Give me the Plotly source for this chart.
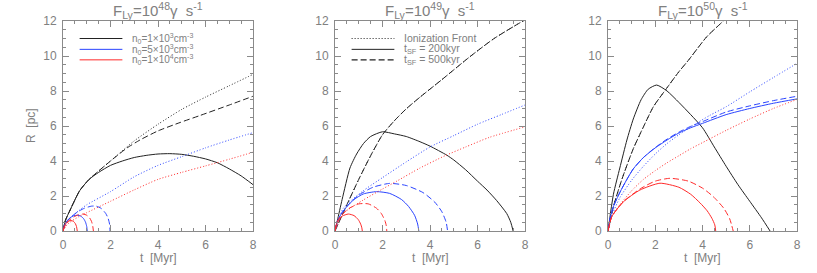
import plotly.graph_objects as go

# ---------------- data (t in Myr, R in pc) ----------------
TITLES = ["F<sub>Ly</sub>=10<sup>48</sup>γ  s<sup>-1</sup>",
          "F<sub>Ly</sub>=10<sup>49</sup>γ  s<sup>-1</sup>",
          "F<sub>Ly</sub>=10<sup>50</sup>γ  s<sup>-1</sup>"]
X_TICKS = [0, 2, 4, 6, 8]
Y_TICKS = [0, 2, 4, 6, 8, 10, 12]
LEGEND1 = ["n<sub>0</sub>=1×10<sup>3</sup>cm<sup>-3</sup>",
           "n<sub>0</sub>=5×10<sup>3</sup>cm<sup>-3</sup>",
           "n<sub>0</sub>=1×10<sup>4</sup>cm<sup>-3</sup>"]
LEGEND2 = ["Ionization Front", "t<sub>SF</sub> = 200kyr", "t<sub>SF</sub> = 500kyr"]

# Panel 1 : F = 1e48
P1_K_IF_T = [0, 0.1, 0.3, 0.7, 1.1, 2.0, 3.0, 4.0, 5.0, 6.0, 7.0, 8.0]
P1_K_IF_R = [0, 0.6, 1.2, 2.3, 2.95, 4.0, 5.15, 6.1, 6.95, 7.65, 8.3, 8.95]
P1_K_200_T = [0, 0.1, 0.3, 0.7, 1.1, 1.5, 2.0, 2.5, 3.0, 3.5, 4.0, 4.5, 5.0, 5.5, 6.0, 6.5, 7.0, 7.5, 8.0]
P1_K_200_R = [0, 0.6, 1.2, 2.3, 2.95, 3.35, 3.75, 4.0, 4.2, 4.32, 4.4, 4.42, 4.38, 4.27, 4.12, 3.9, 3.55, 3.15, 2.65]
P1_K_500_T = [0, 0.1, 0.3, 0.7, 1.1, 2.0, 2.7, 3.24, 4.0, 4.93, 5.77, 7.0, 8.0]
P1_K_500_R = [0, 0.6, 1.2, 2.3, 2.95, 4.0, 4.75, 5.2, 5.72, 6.2, 6.6, 7.2, 7.7]
P1_B_IF_T = [0, 0.2, 0.7, 1.0, 2.0, 3.0, 4.0, 5.0, 6.0, 7.0, 8.0]
P1_B_IF_R = [0, 0.6, 1.2, 1.5, 2.25, 3.1, 3.75, 4.25, 4.75, 5.2, 5.62]
P1_B_200_T = [0, 0.05, 0.15, 0.3, 0.45, 0.6, 0.75, 0.87, 0.95, 1.0, 1.02]
P1_B_200_R = [0, 0.3, 0.55, 0.76, 0.87, 0.9, 0.85, 0.7, 0.5, 0.25, 0]
P1_B_500_T = [0, 0.1, 0.3, 0.6, 0.9, 1.2, 1.4, 1.6, 1.8, 1.9, 1.96, 1.98]
P1_B_500_R = [0, 0.4, 0.75, 1.08, 1.3, 1.42, 1.42, 1.3, 1.0, 0.72, 0.4, 0]
P1_R_IF_T = [0, 0.2, 0.7, 1.0, 2.0, 3.0, 4.0, 5.0, 6.0, 7.0, 8.0]
P1_R_IF_R = [0, 0.4, 0.85, 1.05, 1.7, 2.35, 2.95, 3.35, 3.72, 4.1, 4.5]
P1_R_200_T = [0, 0.05, 0.12, 0.22, 0.34, 0.44, 0.52, 0.57, 0.6]
P1_R_200_R = [0, 0.25, 0.42, 0.55, 0.6, 0.55, 0.42, 0.25, 0]
P1_R_500_T = [0, 0.1, 0.25, 0.45, 0.65, 0.85, 1.0, 1.12, 1.2, 1.25, 1.28]
P1_R_500_R = [0, 0.35, 0.6, 0.8, 0.93, 0.97, 0.9, 0.75, 0.55, 0.3, 0]

# Panel 2 : F = 1e49
P2_K_IF_T = [0, 0.5, 1.0, 1.5, 2.0, 2.5, 3.0, 3.58, 4.5, 5.68, 6.7, 7.79, 8.0]
P2_K_IF_R = [0, 1.5, 2.95, 4.3, 5.5, 6.3, 6.98, 7.65, 8.65, 9.96, 11.0, 11.9, 12.05]
P2_K_200_T = [0, 0.1, 0.3, 0.63, 0.91, 1.2, 1.5, 2.0, 2.5, 3.0, 3.58, 4.0, 4.7, 5.0, 5.5, 6.0, 6.4, 6.8, 7.23, 7.4, 7.5]
P2_K_200_R = [0, 0.6, 1.8, 3.6, 4.4, 5.0, 5.4, 5.67, 5.55, 5.4, 5.1, 4.85, 4.34, 4.06, 3.5, 2.85, 2.34, 1.75, 1.0, 0.5, 0]
P2_K_500_T = [0, 0.5, 1.0, 1.5, 2.0, 2.5, 3.0, 3.58, 4.5, 5.68, 6.7, 7.79, 8.0]
P2_K_500_R = [0, 1.5, 2.95, 4.3, 5.5, 6.3, 6.98, 7.65, 8.65, 9.96, 11.0, 11.9, 12.05]
P2_B_IF_T = [0, 0.35, 1.19, 2.0, 3.0, 4.0, 5.0, 6.0, 7.0, 8.0]
P2_B_IF_R = [0, 1.3, 2.3, 3.05, 3.95, 4.8, 5.45, 6.1, 6.65, 7.2]
P2_B_200_T = [0, 0.1, 0.25, 0.5, 0.8, 1.2, 1.75, 2.3, 2.8, 3.1, 3.35, 3.48, 3.53]
P2_B_200_R = [0, 0.55, 0.95, 1.4, 1.8, 2.12, 2.25, 2.15, 1.8, 1.4, 0.9, 0.4, 0]
P2_B_500_T = [0, 0.1, 0.3, 0.6, 1.0, 1.6, 2.3, 3.0, 3.7, 4.2, 4.5, 4.68, 4.74]
P2_B_500_R = [0, 0.55, 1.05, 1.55, 2.05, 2.5, 2.72, 2.6, 2.2, 1.65, 1.1, 0.5, 0]
P2_R_IF_T = [0, 0.35, 1.19, 2.0, 2.6, 3.58, 4.63, 5.5, 6.5, 8.0]
P2_R_IF_R = [0, 1.0, 1.77, 2.4, 2.85, 3.6, 4.3, 4.8, 5.35, 5.95]
P2_R_200_T = [0, 0.05, 0.15, 0.3, 0.56, 0.8, 0.98, 1.08, 1.13, 1.15]
P2_R_200_R = [0, 0.35, 0.62, 0.85, 0.97, 0.88, 0.65, 0.4, 0.18, 0]
P2_R_500_T = [0, 0.1, 0.3, 0.6, 1.0, 1.4, 1.75, 1.95, 2.1, 2.16, 2.18]
P2_R_500_R = [0, 0.55, 0.95, 1.3, 1.55, 1.55, 1.3, 1.0, 0.6, 0.3, 0]

# Panel 3 : F = 1e50
P3_K_IF_T = [0, 0.23, 0.6, 1.07, 1.5, 1.92, 2.48, 3.0, 3.4, 4.18, 4.88, 5.3]
P3_K_IF_R = [0, 1.4, 3.0, 4.7, 5.95, 7.1, 8.15, 9.1, 9.75, 11.1, 12.0, 12.6]
P3_K_200_T = [0, 0.23, 0.5, 0.8, 1.07, 1.4, 1.7, 2.06, 2.5, 3.0, 3.5, 4.0, 4.5, 5.0, 5.5, 6.0, 6.5, 6.86]
P3_K_200_R = [0, 2.1, 3.6, 5.2, 6.4, 7.5, 8.1, 8.34, 8.0, 7.35, 6.65, 5.9, 4.8, 3.7, 2.65, 1.7, 0.75, 0]
P3_K_500_T = [0, 0.23, 0.6, 1.07, 1.5, 1.92, 2.48, 3.0, 3.4, 4.18, 4.88, 5.3]
P3_K_500_R = [0, 1.4, 3.0, 4.7, 5.95, 7.1, 8.15, 9.1, 9.75, 11.1, 12.0, 12.6]
P3_B_IF_T = [0, 0.2, 0.5, 1.0, 1.5, 2.0, 2.5, 3.0, 3.5, 4.3, 5.0, 6.0, 7.0, 8.0]
P3_B_IF_R = [0, 1.0, 1.9, 2.9, 3.7, 4.4, 5.0, 5.5, 5.95, 6.6, 7.1, 7.95, 8.77, 9.58]
P3_B_200_T = [0, 0.1, 0.23, 0.5, 0.8, 1.07, 1.5, 2.0, 2.5, 3.0, 3.5, 4.0, 5.0, 6.0, 7.0, 8.0]
P3_B_200_R = [0, 0.8, 1.4, 2.2, 2.95, 3.55, 4.2, 4.75, 5.2, 5.6, 5.9, 6.15, 6.65, 7.0, 7.3, 7.55]
P3_B_500_T = [0, 0.1, 0.23, 0.5, 0.8, 1.07, 1.5, 2.0, 2.5, 3.0, 3.5, 4.0, 5.0, 6.0, 7.0, 8.0]
P3_B_500_R = [0, 0.8, 1.4, 2.2, 2.95, 3.55, 4.2, 4.77, 5.25, 5.65, 5.98, 6.25, 6.8, 7.15, 7.45, 7.7]
P3_R_IF_T = [0, 0.16, 0.5, 1.0, 1.5, 2.0, 2.5, 3.0, 3.5, 4.0, 5.0, 6.0, 7.0, 8.0]
P3_R_IF_R = [0, 0.82, 1.5, 2.3, 2.95, 3.45, 3.9, 4.3, 4.7, 5.05, 5.75, 6.4, 7.0, 7.52]
P3_R_200_T = [0, 0.16, 0.65, 1.35, 2.2, 3.0, 3.5, 3.9, 4.2, 4.4, 4.52, 4.56]
P3_R_200_R = [0, 0.82, 1.67, 2.34, 2.73, 2.5, 2.1, 1.6, 1.15, 0.72, 0.35, 0]
P3_R_500_T = [0, 0.16, 0.65, 1.35, 2.0, 2.62, 3.4, 4.0, 4.46, 4.9, 5.15, 5.3]
P3_R_500_R = [0, 0.82, 1.67, 2.4, 2.85, 3.01, 2.85, 2.45, 1.96, 1.3, 0.7, 0]

PANELS = [
    [("k", "if", P1_K_IF_T, P1_K_IF_R), ("k", "200", P1_K_200_T, P1_K_200_R), ("k", "500", P1_K_500_T, P1_K_500_R),
     ("b", "if", P1_B_IF_T, P1_B_IF_R), ("b", "200", P1_B_200_T, P1_B_200_R), ("b", "500", P1_B_500_T, P1_B_500_R),
     ("r", "if", P1_R_IF_T, P1_R_IF_R), ("r", "200", P1_R_200_T, P1_R_200_R), ("r", "500", P1_R_500_T, P1_R_500_R)],
    [("k", "if", P2_K_IF_T, P2_K_IF_R), ("k", "200", P2_K_200_T, P2_K_200_R), ("k", "500", P2_K_500_T, P2_K_500_R),
     ("b", "if", P2_B_IF_T, P2_B_IF_R), ("b", "200", P2_B_200_T, P2_B_200_R), ("b", "500", P2_B_500_T, P2_B_500_R),
     ("r", "if", P2_R_IF_T, P2_R_IF_R), ("r", "200", P2_R_200_T, P2_R_200_R), ("r", "500", P2_R_500_T, P2_R_500_R)],
    [("k", "if", P3_K_IF_T, P3_K_IF_R), ("k", "200", P3_K_200_T, P3_K_200_R), ("k", "500", P3_K_500_T, P3_K_500_R),
     ("b", "if", P3_B_IF_T, P3_B_IF_R), ("b", "200", P3_B_200_T, P3_B_200_R), ("b", "500", P3_B_500_T, P3_B_500_R),
     ("r", "if", P3_R_IF_T, P3_R_IF_R), ("r", "200", P3_R_200_T, P3_R_200_R), ("r", "500", P3_R_500_T, P3_R_500_R)],
]

# ---------------- styles ----------------
COLORS = {"k": "#222222", "b": "#2a44ff", "r": "#ff2a2a"}
DASHES = {"if": "1px,2px", "200": "solid", "500": "6px,3px"}
AXIS_GRAY = "#8a8a8a"
TEXT_GRAY = "#808080"
FONT = "Liberation Sans, Arial, sans-serif"

W, H = 817, 273


def px(x):
    return x / W


def py(y):
    return 1 - y / H


X_DOMAINS = [(px(63), px(253)), (px(335), px(525)), (px(608), px(797))]
Y_DOMAIN = (py(231), py(21))

fig = go.Figure()

for i, panel in enumerate(PANELS):
    xa = "x" if i == 0 else f"x{i+1}"
    ya = "y" if i == 0 else f"y{i+1}"
    for col, kind, t, r in panel:
        fig.add_trace(go.Scatter(
            x=t, y=r, mode="lines", xaxis=xa, yaxis=ya, showlegend=False,
            line=dict(color=COLORS[col], width=1, dash=DASHES[kind], shape="spline", smoothing=0.6),
            hoverinfo="skip"))

axis_common = dict(
    showgrid=False, zeroline=False, showline=True, linecolor=AXIS_GRAY, linewidth=1,
    mirror="allticks", ticks="inside", ticklen=6, tickcolor=AXIS_GRAY, tickwidth=1,
    tickfont=dict(family=FONT, size=12, color=TEXT_GRAY), automargin=False,
    minor=dict(ticks="inside", ticklen=3, tickcolor=AXIS_GRAY, dtick=0.5, showgrid=False),
)

layout = dict(width=W, height=H, margin=dict(l=0, r=0, t=0, b=0, autoexpand=False),
              paper_bgcolor="white", plot_bgcolor="white", showlegend=False)
for i in range(3):
    xk = "xaxis" if i == 0 else f"xaxis{i+1}"
    yk = "yaxis" if i == 0 else f"yaxis{i+1}"
    xa_anchor = "y" if i == 0 else f"y{i+1}"
    ya_anchor = "x" if i == 0 else f"x{i+1}"
    layout[xk] = dict(axis_common, domain=list(X_DOMAINS[i]), range=[0, 8], tickvals=X_TICKS,
                      anchor=xa_anchor, ticklabelstandoff=3)
    layout[yk] = dict(axis_common, domain=list(Y_DOMAIN), range=[0, 12], tickvals=Y_TICKS,
                      anchor=ya_anchor, ticklabelstandoff=3)
fig.update_layout(**layout)

# Axis titles
for i in range(3):
    cx = (X_DOMAINS[i][0] + X_DOMAINS[i][1]) / 2
    fig.add_annotation(x=cx, y=py(258), xref="paper", yref="paper", text="t  [Myr]", showarrow=False,
                       font=dict(family=FONT, size=12, color=TEXT_GRAY), xanchor="center", yanchor="middle")
fig.add_annotation(x=px(31), y=py(126), xref="paper", yref="paper", text="R  [pc]", showarrow=False,
                   textangle=-90, font=dict(family=FONT, size=12, color=TEXT_GRAY),
                   xanchor="center", yanchor="middle")

# Titles
for i, txt in enumerate(TITLES):
    cx = (X_DOMAINS[i][0] + X_DOMAINS[i][1]) / 2
    fig.add_annotation(x=cx, y=py(11), xref="paper", yref="paper", text=txt, showarrow=False,
                       font=dict(family=FONT, size=15, color=TEXT_GRAY), xanchor="center", yanchor="middle")

# Legends (drawn in data coordinates of panels 1 and 2)
LEG_Y = [11.0, 10.38, 9.78]
LEG_X0, LEG_X1, LEG_XT = 0.7, 2.5, 2.8
for j in range(3):
    col = ["k", "b", "r"][j]
    fig.add_trace(go.Scatter(x=[LEG_X0, LEG_X1], y=[LEG_Y[j]] * 2, mode="lines", xaxis="x", yaxis="y",
                             showlegend=False, hoverinfo="skip",
                             line=dict(color=COLORS[col], width=1)))
    fig.add_annotation(x=LEG_XT, y=LEG_Y[j], xref="x", yref="y", text=LEGEND1[j], showarrow=False,
                       xanchor="left", yanchor="middle", font=dict(family=FONT, size=10, color=TEXT_GRAY))
    kind = ["if", "200", "500"][j]
    fig.add_trace(go.Scatter(x=[LEG_X0, LEG_X1], y=[LEG_Y[j]] * 2, mode="lines", xaxis="x2", yaxis="y2",
                             showlegend=False, hoverinfo="skip",
                             line=dict(color=COLORS["k"], width=1.3 if kind == "500" else 1, dash=DASHES[kind])))
    fig.add_annotation(x=LEG_XT, y=LEG_Y[j], xref="x2", yref="y2", text=LEGEND2[j], showarrow=False,
                       xanchor="left", yanchor="middle", font=dict(family=FONT, size=10.5, color=TEXT_GRAY))

# remove the default 8px page margin so the figure sits at the window's top-left corner
fig.write_html("out.html", config={"displayModeBar": False},
               post_script="document.body.style.margin='0px';")
